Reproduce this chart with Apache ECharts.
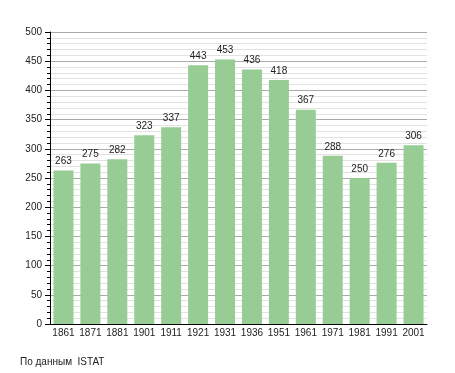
<!DOCTYPE html>
<html><head><meta charset="utf-8">
<script src="https://cdn.jsdelivr.net/npm/echarts@6/dist/echarts.min.js"></script>
<style>html,body{margin:0;padding:0;background:#fff}#c{width:455px;height:373px}</style>
</head><body><div id="c"></div>
<script>
const years = ['1861','1871','1881','1901','1911','1921','1931','1936','1951','1961','1971','1981','1991','2001'];
const population = [263,275,282,323,337,443,453,436,418,367,288,250,276,306];
const yMin = 0, yMax = 500, yStep = 50;
const sourceText = 'По данным  ISTAT';

const chart = echarts.init(document.getElementById('c'), null, {renderer:'canvas'});
chart.setOption({
  animation:false,
  backgroundColor:'#fff',
  textStyle:{fontFamily:'Liberation Sans, Arial, sans-serif'},
  grid:{left:50,right:28,top:32,bottom:49,containLabel:false},
  graphic:[{type:'text',left:20,top:357,style:{text:sourceText,fontSize:10,fill:'#222',fontFamily:'Liberation Sans, Arial, sans-serif'}}],
  xAxis:{type:'category',data:years,
    axisLine:{lineStyle:{color:'#000',width:1}},
    axisTick:{show:false},
    axisLabel:{color:'#222',fontSize:10,margin:4,interval:0},
    splitLine:{show:false}},
  yAxis:{type:'value',min:yMin,max:yMax,interval:yStep,
    axisLine:{show:true,lineStyle:{color:'#000',width:1}},
    axisTick:{show:true,length:5,lineStyle:{color:'#000'}},
    minorTick:{show:true,splitNumber:5,length:3,lineStyle:{color:'#000'}},
    axisLabel:{color:'#222',fontSize:10,margin:8},
    splitLine:{show:true,lineStyle:{color:'#aaa',width:1}},
    minorSplitLine:{show:true,lineStyle:{color:'#e2e2e2',width:1}}},
  series:[{type:'bar',data:population,barWidth:20,
    itemStyle:{color:'#97cc95'},
    label:{show:true,position:'top',color:'#222',fontSize:10,distance:4}}]
});
</script></body></html>
